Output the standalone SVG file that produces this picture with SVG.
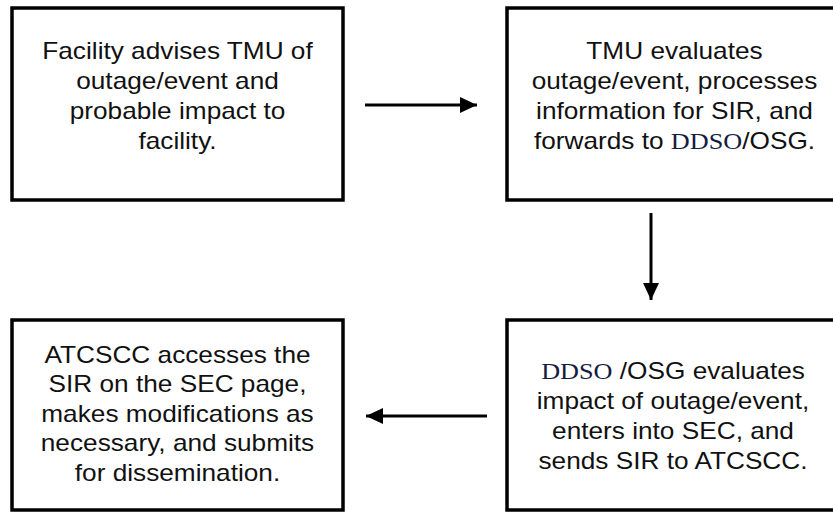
<svg xmlns="http://www.w3.org/2000/svg" width="833" height="512" viewBox="0 0 833 512">
<defs>
<style>
.box{fill:#fff;stroke:#000;stroke-width:3.5}
.t{font-family:"Liberation Sans",Arial,sans-serif;font-size:23px;fill:#111;text-anchor:middle}
.s{font-family:"Liberation Serif","Times New Roman",serif;fill:#161c40}
.c{stroke:#000;stroke-width:3;fill:none}
</style>
<marker id="ah" markerUnits="userSpaceOnUse" markerWidth="18" markerHeight="18" viewBox="0 0 18 18" refX="17" refY="9" orient="auto">
<path d="M0,1 L17,9 L0,17 Z" fill="#000"/>
</marker>
</defs>
<rect width="833" height="512" fill="#fff"/>
<g id="n1">
<rect class="box" x="12" y="8" width="331" height="192"/>
<g transform="translate(177.5,0) scale(1.14,1)">
<text class="t" x="0" y="59">Facility advises TMU of</text>
<text class="t" x="0" y="89">outage/event and</text>
<text class="t" x="0" y="119">probable impact to</text>
<text class="t" x="0" y="149">facility.</text>
</g>
</g>
<g id="n2">
<rect class="box" x="507" y="8" width="340" height="192"/>
<g transform="translate(674.5,0) scale(1.14,1)">
<text class="t" x="0" y="59">TMU evaluates</text>
<text class="t" x="0" y="89">outage/event, processes</text>
<text class="t" x="0" y="119">information for SIR, and</text>
<text class="t" x="0" y="149">forwards to <tspan class="s">DDSO</tspan>/OSG.</text>
</g>
</g>
<g id="n3">
<rect class="box" x="507" y="320" width="340" height="190"/>
<g transform="translate(673,0) scale(1.14,1)">
<text class="t" x="0" y="379"><tspan class="s">DDSO</tspan> /OSG evaluates</text>
<text class="t" x="0" y="409">impact of outage/event,</text>
<text class="t" x="0" y="439">enters into SEC, and</text>
<text class="t" x="0" y="469">sends SIR to ATCSCC.</text>
</g>
</g>
<g id="n4">
<rect class="box" x="12" y="320" width="331" height="190"/>
<g transform="translate(177.5,0) scale(1.14,1)">
<text class="t" x="0" y="363">ATCSCC accesses the</text>
<text class="t" x="0" y="392">SIR on the SEC page,</text>
<text class="t" x="0" y="422">makes modifications as</text>
<text class="t" x="0" y="451">necessary, and submits</text>
<text class="t" x="0" y="481">for dissemination.</text>
</g>
</g>
<g id="connectors">
<line class="c" x1="365" y1="105" x2="477" y2="105" marker-end="url(#ah)"/>
<line class="c" x1="651" y1="213" x2="651" y2="300" stroke-width="4" marker-end="url(#ah)"/>
<line class="c" x1="487" y1="416" x2="366" y2="416" marker-end="url(#ah)"/>
</g>
</svg>
